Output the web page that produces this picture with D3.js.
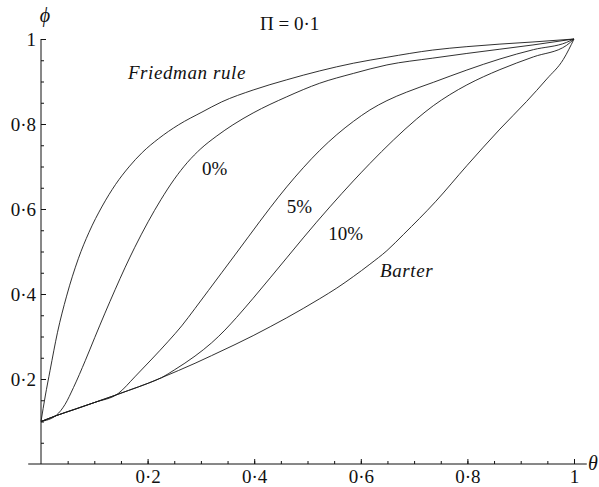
<!DOCTYPE html>
<html>
<head>
<meta charset="utf-8">
<script src="https://cdn.jsdelivr.net/npm/d3@7"></script>
<style>
  body { margin: 0; background: #fff; }
  text { font-family: "Liberation Serif", "Times New Roman", serif; fill: #111; }
  .tick line { stroke: #111; }
</style>
</head>
<body>
<div id="chart"></div>
<script>
// curves, [theta, phi]
var friedman = [[0, 0.1], [0.008, 0.16], [0.017, 0.22], [0.031, 0.31], [0.048, 0.395], [0.07, 0.483],
  [0.09, 0.545], [0.115, 0.607], [0.14, 0.658], [0.165, 0.699], [0.19, 0.733], [0.22, 0.765],
  [0.258, 0.798], [0.302, 0.828], [0.339, 0.852], [0.398, 0.88], [0.461, 0.904], [0.523, 0.925],
  [0.586, 0.943], [0.649, 0.957], [0.735, 0.974], [0.799, 0.982], [0.861, 0.988], [0.923, 0.993], [1, 1]];

var zeroPct = [[0, 0.1], [0.029, 0.115], [0.045, 0.14], [0.061, 0.18], [0.083, 0.243], [0.101, 0.298],
  [0.12, 0.355], [0.139, 0.41], [0.158, 0.463], [0.176, 0.51], [0.201, 0.57], [0.225, 0.622],
  [0.25, 0.67], [0.275, 0.71], [0.3, 0.742], [0.33, 0.772], [0.36, 0.798], [0.398, 0.826],
  [0.461, 0.864], [0.523, 0.896], [0.586, 0.919], [0.649, 0.939], [0.735, 0.955], [0.799, 0.966],
  [0.861, 0.976], [0.923, 0.986], [1, 1]];

var fivePct = [[0, 0.1], [0.029, 0.114], [0.064, 0.129], [0.101, 0.145], [0.145, 0.166], [0.176, 0.205],
  [0.208, 0.247], [0.239, 0.289], [0.264, 0.325], [0.289, 0.366], [0.314, 0.408], [0.339, 0.45],
  [0.364, 0.492], [0.39, 0.536], [0.43, 0.603], [0.461, 0.652], [0.492, 0.697], [0.523, 0.738],
  [0.555, 0.775], [0.586, 0.806], [0.617, 0.833], [0.649, 0.855], [0.686, 0.875], [0.736, 0.898],
  [0.799, 0.927], [0.861, 0.953], [0.924, 0.975], [0.986, 0.992], [1, 1]];

var tenPct = [[0, 0.1], [0.029, 0.114], [0.064, 0.129], [0.101, 0.145], [0.133, 0.159], [0.164, 0.173],
  [0.201, 0.19], [0.226, 0.203], [0.251, 0.222], [0.289, 0.254], [0.32, 0.285], [0.345, 0.315],
  [0.367, 0.345], [0.398, 0.39], [0.43, 0.438], [0.461, 0.485], [0.492, 0.532], [0.517, 0.569],
  [0.542, 0.605], [0.586, 0.666], [0.617, 0.707], [0.661, 0.762], [0.705, 0.812], [0.736, 0.843],
  [0.767, 0.869], [0.799, 0.892], [0.861, 0.928], [0.924, 0.958], [0.986, 0.985], [1, 1]];

var barter = [[0, 0.1], [0.029, 0.114], [0.064, 0.129], [0.101, 0.145], [0.133, 0.159], [0.164, 0.173],
  [0.201, 0.19], [0.226, 0.203], [0.258, 0.22], [0.289, 0.237], [0.32, 0.255], [0.364, 0.281],
  [0.398, 0.302], [0.43, 0.323], [0.461, 0.344], [0.492, 0.366], [0.523, 0.389], [0.555, 0.414],
  [0.586, 0.441], [0.617, 0.47], [0.649, 0.502], [0.68, 0.54], [0.74, 0.617], [0.799, 0.702],
  [0.861, 0.788], [0.911, 0.853], [0.949, 0.906], [0.98, 0.952], [1, 1]];

var curves = [friedman, zeroPct, fivePct, tenPct, barter];

// curve labels: text, theta, phi, italic
var labelText = ["Friedman rule", "0%", "5%", "10%", "Barter"];
var labelPos = [[0.163, 0.906], [0.302, 0.679], [0.461, 0.590], [0.539, 0.527], [0.636, 0.440]];
var labelItalic = [true, false, false, false, true];

var majorTicks = [0.2, 0.4, 0.6, 0.8, 1];
var minorTicks = d3.range(1, 21).map(d => d / 20);

var svgWidth = 599;
var svgHeight = 487;

var margin = {
  top: 39,
  right: 25,
  bottom: 23,
  left: 41
};

var width = svgWidth - margin.left - margin.right;
var height = svgHeight - margin.top - margin.bottom;

var svg = d3.select("#chart")
  .append("svg")
  .attr("width", svgWidth)
  .attr("height", svgHeight);

var chartGroup = svg.append("g")
  .attr("transform", `translate(${margin.left}, ${margin.top})`);

var xScale = d3.scaleLinear().domain([0, 1]).range([0, width]);
var yScale = d3.scaleLinear().domain([0, 1]).range([height, 0]);

var fmt = d => String(d).replace(".", "\u00b7");

// minor ticks first, then labelled ones
chartGroup.append("g")
  .attr("transform", `translate(0, ${height})`)
  .call(d3.axisBottom(xScale).tickValues(minorTicks).tickSize(-3).tickFormat(""))
  .call(g => g.select(".domain").remove());

chartGroup.append("g")
  .call(d3.axisLeft(yScale).tickValues(minorTicks).tickSize(-3).tickFormat(""))
  .call(g => g.select(".domain").remove());

var xAxis = chartGroup.append("g")
  .attr("transform", `translate(0, ${height})`)
  .call(d3.axisBottom(xScale).tickValues(majorTicks).tickSize(-5).tickPadding(6).tickFormat(fmt));

var yAxis = chartGroup.append("g")
  .call(d3.axisLeft(yScale).tickValues(majorTicks).tickSize(-5).tickPadding(5).tickFormat(fmt));

[xAxis, yAxis].forEach(function(ax) {
  ax.select(".domain").remove();
  ax.selectAll("text")
    .attr("font-size", 19)
    .attr("font-family", "Liberation Serif");
});

// axis lines: x runs a bit past both ends, y stops at 0 and 1
chartGroup.append("line")
  .attr("x1", xScale(-0.024)).attr("x2", xScale(1.024))
  .attr("y1", yScale(0)).attr("y2", yScale(0))
  .attr("stroke", "#111");

chartGroup.append("line")
  .attr("x1", xScale(0)).attr("x2", xScale(0))
  .attr("y1", yScale(0)).attr("y2", yScale(1))
  .attr("stroke", "#111");

var line = d3.line()
  .curve(d3.curveMonotoneX)
  .x(d => xScale(d[0]))
  .y(d => yScale(d[1]));

chartGroup.selectAll(".curve")
  .data(curves)
  .enter()
  .append("path")
  .attr("class", "curve")
  .attr("d", line)
  .attr("fill", "none")
  .attr("stroke", "#1a1a1a")
  .attr("stroke-width", 0.9);

chartGroup.selectAll(".clabel")
  .data(labelText)
  .enter()
  .append("text")
  .attr("class", "clabel")
  .attr("x", (d, i) => xScale(labelPos[i][0]))
  .attr("y", (d, i) => yScale(labelPos[i][1]))
  .attr("font-size", 19)
  .attr("font-style", (d, i) => labelItalic[i] ? "italic" : "normal")
  .attr("letter-spacing", (d, i) => labelItalic[i] ? "0.6px" : "0px")
  .text(d => d);

// axis names and title
chartGroup.append("text")
  .attr("x", xScale(0) + 4)
  .attr("y", -17)
  .attr("text-anchor", "middle")
  .attr("font-size", 20)
  .attr("font-style", "italic")
  .text("\u03d5");

chartGroup.append("text")
  .attr("x", xScale(1) + 14)
  .attr("y", height + 6)
  .attr("font-size", 20)
  .attr("font-style", "italic")
  .text("\u03b8");

chartGroup.append("text")
  .attr("x", xScale(0.411))
  .attr("y", -9)
  .attr("font-size", 19)
  .text("\u03a0 = 0\u00b71");
</script>
</body>
</html>
